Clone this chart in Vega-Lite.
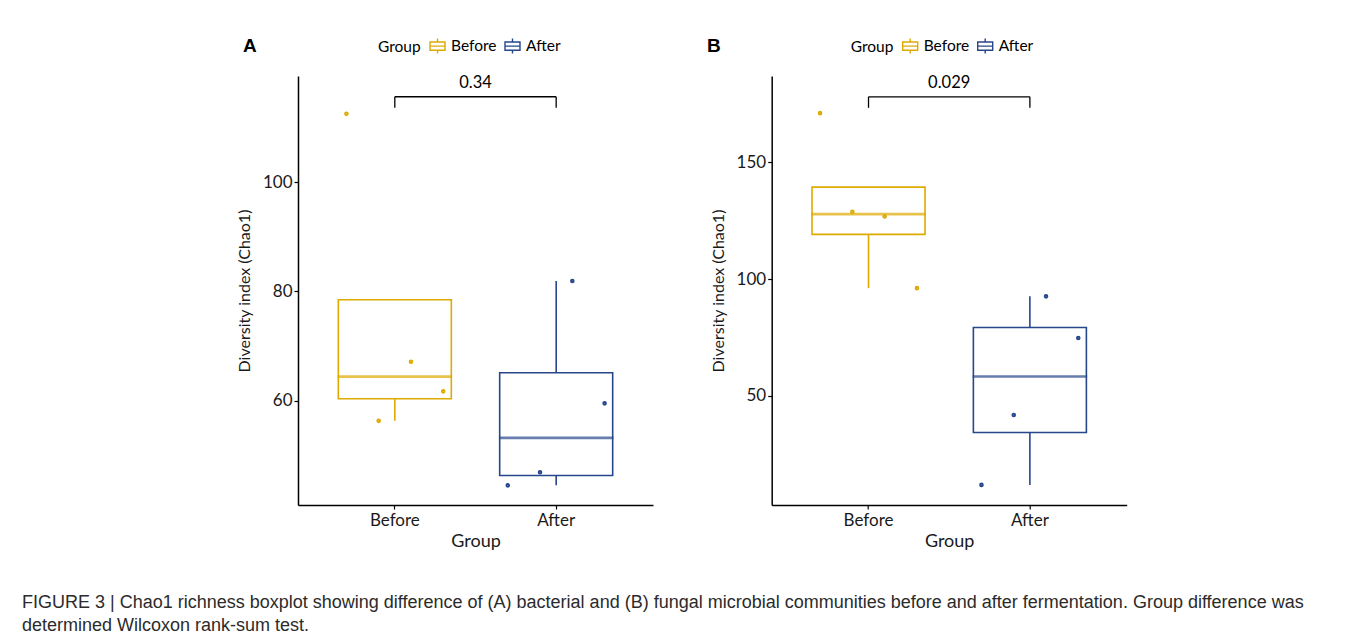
{
  "$schema": "https://vega.github.io/schema/vega-lite/v6.json",
  "datasets": {
    "bact": [
      {"Group": "Before", "rep": "1", "value": 112.5},
      {"Group": "Before", "rep": "2", "value": 56.3},
      {"Group": "Before", "rep": "3", "value": 67.1},
      {"Group": "Before", "rep": "4", "value": 61.7},
      {"Group": "After", "rep": "1", "value": 44.5},
      {"Group": "After", "rep": "2", "value": 46.9},
      {"Group": "After", "rep": "3", "value": 81.9},
      {"Group": "After", "rep": "4", "value": 59.5}
    ],
    "fung": [
      {"Group": "Before", "rep": "1", "value": 171},
      {"Group": "Before", "rep": "2", "value": 128.8},
      {"Group": "Before", "rep": "3", "value": 126.8},
      {"Group": "Before", "rep": "4", "value": 96.1},
      {"Group": "After", "rep": "1", "value": 11.9},
      {"Group": "After", "rep": "2", "value": 41.8},
      {"Group": "After", "rep": "3", "value": 92.6},
      {"Group": "After", "rep": "4", "value": 74.8}
    ]
  },
  "padding": {"left": 22, "top": 36, "right": 5, "bottom": 5},
  "autosize": {"type": "pad"},
  "bounds": "flush",
  "spacing": 118.7,
  "title": {
    "text": ["FIGURE 3 | Chao1 richness boxplot showing difference of (A) bacterial and (B) fungal microbial communities before and after fermentation. Group difference was", "determined Wilcoxon rank-sum test."],
    "orient": "bottom", "anchor": "start", "frame": "group", "dx": -276, "offset": 44,
    "font": "Liberation Sans", "fontSize": 18, "fontWeight": "normal", "color": "#2b2b2b", "lineHeight": 23, "baseline": "top"
  },
  "hconcat": [
    {
      "width": 355, "height": 429,
      "title": {"text": "A", "anchor": "start", "frame": "group", "dx": -55, "offset": -33, "baseline": "alphabetic", "font": "Liberation Sans", "fontSize": 19, "fontWeight": "bold", "color": "#000000"},
      "data": {"name": "bact"},
      "layer": [
        {
          "mark": {"type": "boxplot", "extent": 1.5, "size": 113, "outliers": false, "ticks": false,
            "box": {"fill": "white", "strokeWidth": 1.6, "opacity": 1},
            "median": {"strokeWidth": 1.5, "thickness": 1.2},
            "rule": {"strokeWidth": 1.6}},
          "encoding": {
            "x": {"field": "Group", "type": "nominal", "title": "Group", "scale": {"type": "band", "domain": ["Before", "After"], "paddingInner": 0, "paddingOuter": 0.1}},
            "y": {"field": "value", "type": "quantitative", "title": "Diversity index (Chao1)", "scale": {"domain": [40.9, 119.4], "nice": false, "zero": false}, "axis": {"values": [60, 80, 100]}},
            "stroke": {"field": "Group", "type": "nominal", "scale": {"domain": ["Before", "After"], "range": ["#DDAA00", "#27478C"]},
              "legend": {"title": "Group", "orient": "none", "legendX": 80, "legendY": -38.5, "direction": "horizontal", "titleOrient": "left", "titleFontSize": 15.5, "titleFontWeight": "normal", "titleColor": "#000000", "labelFontSize": 15.5, "labelColor": "#000000", "symbolType": "M-1,-0.55H1V0.55H-1Z M-1,0H1 M0,-1V-0.55 M0,0.55V1", "symbolSize": 225, "symbolStrokeWidth": 1.4, "symbolFillColor": "white", "columnPadding": 5, "labelOffset": 5, "titlePadding": 8,
                "encode": {"symbols": {"update": {"fill": {"value": "white"}, "fillOpacity": {"value": 1}}}}}}
          }
        },
        {
          "mark": {"type": "point", "filled": false, "size": 4, "strokeWidth": 2.6, "opacity": 1},
          "encoding": {
            "x": {"field": "Group", "type": "nominal", "title": "Group"},
            "xOffset": {"field": "rep", "type": "nominal", "scale": {"paddingOuter": 6, "paddingInner": 0}},
            "y": {"field": "value", "type": "quantitative", "title": "Diversity index (Chao1)"},
            "stroke": {"field": "Group", "type": "nominal"}
          }
        },
        {
          "data": {"values": [{"group1": "Before", "group2": "After", "p": "0.34"}]},
          "layer": [
            {"mark": {"type": "rule", "color": "#000000", "strokeWidth": 1.3},
             "encoding": {"x": {"field": "group1", "type": "nominal", "bandPosition": 0.5, "title": "Group"}, "x2": {"field": "group2", "bandPosition": 0.5}, "y": {"datum": 115.6, "type": "quantitative"}}},
            {"mark": {"type": "rule", "color": "#000000", "strokeWidth": 1.3},
             "encoding": {"x": {"field": "group1", "type": "nominal", "bandPosition": 0.5, "title": "Group"}, "y": {"datum": 115.6, "type": "quantitative"}, "y2": {"datum": 113.6}}},
            {"mark": {"type": "rule", "color": "#000000", "strokeWidth": 1.3},
             "encoding": {"x": {"field": "group2", "type": "nominal", "bandPosition": 0.5, "title": "Group"}, "y": {"datum": 115.6, "type": "quantitative"}, "y2": {"datum": 113.6}}},
            {"mark": {"type": "text", "baseline": "alphabetic", "dy": -9, "fontSize": 16.5, "font": "Lato", "color": "#000000"},
             "encoding": {"x": {"field": "group1", "type": "nominal", "bandPosition": 1, "title": "Group"}, "y": {"datum": 115.6, "type": "quantitative"}, "text": {"field": "p"}}}
          ]
        }
      ]
    },
    {
      "width": 355, "height": 429,
      "title": {"text": "B", "anchor": "start", "frame": "group", "dx": -64.7, "offset": -33, "baseline": "alphabetic", "font": "Liberation Sans", "fontSize": 19, "fontWeight": "bold", "color": "#000000"},
      "data": {"name": "fung"},
      "layer": [
        {
          "mark": {"type": "boxplot", "extent": 1.5, "size": 113, "outliers": false, "ticks": false,
            "box": {"fill": "white", "strokeWidth": 1.6, "opacity": 1},
            "median": {"strokeWidth": 1.5, "thickness": 1.2},
            "rule": {"strokeWidth": 1.6}},
          "encoding": {
            "x": {"field": "Group", "type": "nominal", "title": "Group", "scale": {"type": "band", "domain": ["Before", "After"], "paddingInner": 0, "paddingOuter": 0.1}},
            "y": {"field": "value", "type": "quantitative", "title": "Diversity index (Chao1)", "scale": {"domain": [3.3, 186.9], "nice": false, "zero": false}, "axis": {"values": [50, 100, 150]}},
            "stroke": {"field": "Group", "type": "nominal", "scale": {"domain": ["Before", "After"], "range": ["#DDAA00", "#27478C"]},
              "legend": {"title": "Group", "orient": "none", "legendX": 79, "legendY": -38.5, "direction": "horizontal", "titleOrient": "left", "titleFontSize": 15.5, "titleFontWeight": "normal", "titleColor": "#000000", "labelFontSize": 15.5, "labelColor": "#000000", "symbolType": "M-1,-0.55H1V0.55H-1Z M-1,0H1 M0,-1V-0.55 M0,0.55V1", "symbolSize": 225, "symbolStrokeWidth": 1.4, "symbolFillColor": "white", "columnPadding": 5, "labelOffset": 5, "titlePadding": 8,
                "encode": {"symbols": {"update": {"fill": {"value": "white"}, "fillOpacity": {"value": 1}}}}}}
          }
        },
        {
          "mark": {"type": "point", "filled": false, "size": 4, "strokeWidth": 2.6, "opacity": 1},
          "encoding": {
            "x": {"field": "Group", "type": "nominal", "title": "Group"},
            "xOffset": {"field": "rep", "type": "nominal", "scale": {"paddingOuter": 6, "paddingInner": 0}},
            "y": {"field": "value", "type": "quantitative", "title": "Diversity index (Chao1)"},
            "stroke": {"field": "Group", "type": "nominal"}
          }
        },
        {
          "data": {"values": [{"group1": "Before", "group2": "After", "p": "0.029"}]},
          "layer": [
            {"mark": {"type": "rule", "color": "#000000", "strokeWidth": 1.3},
             "encoding": {"x": {"field": "group1", "type": "nominal", "bandPosition": 0.5, "title": "Group"}, "x2": {"field": "group2", "bandPosition": 0.5}, "y": {"datum": 178, "type": "quantitative"}}},
            {"mark": {"type": "rule", "color": "#000000", "strokeWidth": 1.3},
             "encoding": {"x": {"field": "group1", "type": "nominal", "bandPosition": 0.5, "title": "Group"}, "y": {"datum": 178, "type": "quantitative"}, "y2": {"datum": 173.3}}},
            {"mark": {"type": "rule", "color": "#000000", "strokeWidth": 1.3},
             "encoding": {"x": {"field": "group2", "type": "nominal", "bandPosition": 0.5, "title": "Group"}, "y": {"datum": 178, "type": "quantitative"}, "y2": {"datum": 173.3}}},
            {"mark": {"type": "text", "baseline": "alphabetic", "dy": -9, "fontSize": 16.5, "font": "Lato", "color": "#000000"},
             "encoding": {"x": {"field": "group1", "type": "nominal", "bandPosition": 1, "title": "Group"}, "y": {"datum": 178, "type": "quantitative"}, "text": {"field": "p"}}}
          ]
        }
      ]
    }
  ],
  "resolve": {"scale": {"x": "independent", "y": "independent", "stroke": "independent"}, "legend": {"stroke": "independent"}},
  "config": {
    "view": {"stroke": null},
    "font": "Lato",
    "axis": {"domainColor": "#000000", "domainWidth": 1.5, "tickColor": "#000000", "tickWidth": 1.2, "tickSize": 4, "labelFont": "Lato", "labelColor": "#1a1a1a", "titleFont": "Lato", "titleFontWeight": "normal", "titleColor": "#1a1a1a", "grid": false},
    "axisX": {"labelFontSize": 17, "labelAngle": 0, "titleFontSize": 18, "labelPadding": 3, "titlePadding": 4},
    "axisY": {"labelFontSize": 17, "titleFontSize": 16, "labelPadding": 2, "titlePadding": 10}
  }
}
